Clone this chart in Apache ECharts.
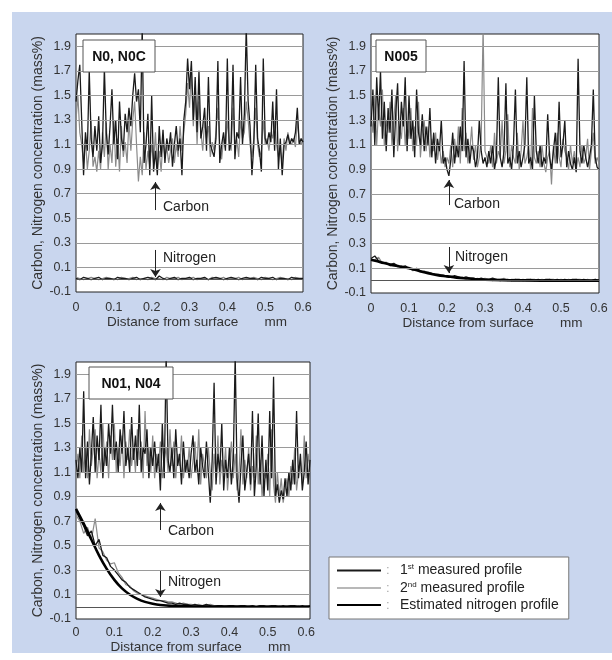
<!DOCTYPE html>
<html><head><meta charset="utf-8">
<script src="https://cdn.jsdelivr.net/npm/echarts@6/dist/echarts.min.js"></script>
<style>
html,body{margin:0;padding:0;background:#fff}
#bg{position:absolute;left:12px;top:12px;width:600px;height:641px;background:#c9d6ee}
#c{position:absolute;left:0;top:0;width:612px;height:660px}
</style>
</head><body><div id="bg"></div><div id="c"></div>
<script>
// ---- tick labels ----
const yTickLabels = ['-0.1','0.1','0.3','0.5','0.7','0.9','1.1','1.3','1.5','1.7','1.9'];
const xTickLabels = ['0','0.1','0.2','0.3','0.4','0.5','0.6'];
const seriesNames = ['1st measured profile','2nd measured profile','Estimated nitrogen profile'];
const panelNames = ['N0, N0C','N005','N01, N04'];

// sampling steps (mm)
const carbonStep = 0.005;
const nitroStep = 0.01;

// ---- Panel 1: N0, N0C ----
const n0Carbon1 = [
1.45,1.62,1.75,1.30,0.85,1.20,1.05,1.70,1.15,1.00,
1.25,1.05,1.33,0.95,1.10,1.72,1.20,1.02,1.25,1.55,
1.10,1.30,0.98,1.45,1.15,1.05,1.35,1.20,1.40,1.25,
1.50,1.68,1.45,1.55,1.20,2.05,0.95,1.10,1.35,0.85,
1.50,0.88,1.05,0.85,1.25,1.00,1.22,0.95,1.15,1.05,
1.20,0.92,1.10,1.25,1.05,1.15,0.85,1.30,1.45,1.80,
1.55,1.78,1.30,1.65,1.20,1.70,1.15,1.25,1.40,1.05,
1.65,1.10,1.05,1.00,1.15,1.78,0.95,1.10,1.20,1.05,
1.80,1.05,1.12,1.75,0.98,1.20,1.15,1.65,1.10,1.35,
2.05,1.45,1.25,0.85,1.10,1.75,1.15,1.05,0.88,1.80,
1.15,1.10,1.20,1.12,1.45,1.05,1.55,0.90,1.15,0.85,
1.10,1.12,1.18,1.10,1.15,1.12,1.20,1.40,1.10,1.15,
1.12];
const n0Carbon2 = [
1.30,1.50,1.20,1.10,0.95,1.15,0.90,1.05,1.30,0.92,
1.00,0.88,1.05,0.90,1.20,1.00,1.28,0.90,1.10,0.95,
1.30,0.92,1.15,0.88,1.25,1.00,1.12,0.95,1.30,1.05,
1.30,1.45,1.10,0.80,1.00,0.85,1.20,0.90,1.05,0.92,
1.10,0.95,1.20,0.90,1.05,0.88,1.15,1.00,1.08,0.95,
1.05,1.15,0.95,1.10,1.00,1.25,1.05,1.20,1.35,1.60,
1.40,1.70,1.25,1.50,1.10,1.45,1.20,1.05,1.30,1.15,
1.25,1.00,1.12,1.05,1.20,1.40,1.10,0.98,1.15,1.08,
1.30,1.12,1.05,1.40,1.10,1.15,1.00,1.30,1.15,1.20,
1.45,1.30,1.10,1.00,1.15,1.40,1.10,1.00,1.05,1.30,
1.10,1.15,1.05,1.20,1.15,1.30,1.10,1.00,1.05,0.95,
1.15,1.05,1.20,1.12,1.10,1.15,1.08,1.30,1.12,1.10,
1.15];
const n0Nitrogen1 = [
0.01,0.00,0.02,0.01,0.00,0.01,0.02,0.00,0.01,0.01,
0.00,0.02,0.01,0.01,0.00,0.01,0.02,0.00,0.01,0.02,
0.01,0.00,0.03,0.01,0.00,0.01,0.02,0.00,0.01,0.01,
0.02,0.00,0.01,0.01,0.02,0.00,0.01,0.02,0.01,0.00,
0.01,0.02,0.01,0.00,0.01,0.02,0.01,0.01,0.00,0.02,
0.01,0.01,0.02,0.00,0.01,0.01,0.00,0.02,0.01,0.01,
0.01];
const n0Nitrogen2 = [
0.02,0.01,0.00,0.01,0.02,0.01,0.00,0.01,0.02,0.01,
0.01,0.00,0.02,0.01,0.01,0.02,0.00,0.01,0.01,0.00,
0.02,0.01,0.01,0.00,0.02,0.01,0.01,0.02,0.00,0.01,
0.01,0.02,0.00,0.01,0.01,0.00,0.02,0.01,0.01,0.02,
0.00,0.01,0.01,0.02,0.00,0.01,0.01,0.02,0.01,0.00,
0.02,0.01,0.00,0.01,0.02,0.01,0.01,0.00,0.02,0.01,
0.01];

// ---- Panel 2: N005 ----
const n005Carbon1 = [
1.25,1.55,1.10,1.65,1.30,1.70,1.15,1.45,1.05,1.40,
1.20,1.55,1.00,1.35,1.60,1.10,1.45,1.25,1.65,1.05,
1.50,1.15,1.30,1.00,1.55,1.20,1.10,1.35,1.05,1.25,
1.10,1.40,1.00,1.20,0.95,1.15,1.05,1.30,0.95,1.00,
0.90,0.85,0.98,1.20,0.95,1.10,1.00,1.25,1.05,1.78,
1.00,1.15,0.95,1.10,1.05,0.92,1.00,1.30,1.05,0.95,
1.00,0.92,1.05,0.95,1.10,0.90,1.00,1.65,1.00,0.92,
1.05,1.60,0.95,1.00,0.90,1.10,1.55,0.95,1.05,0.92,
1.00,1.10,1.65,0.95,1.00,0.90,1.50,1.05,0.95,1.10,
0.92,1.00,0.95,1.35,1.00,0.90,1.05,1.20,0.95,1.45,
1.00,1.10,1.30,0.92,1.05,0.95,0.90,1.00,0.88,1.80,
1.05,0.95,1.10,1.00,0.92,1.00,1.10,1.55,1.00,0.92,
0.90];
const n005Carbon2 = [
1.35,1.20,1.50,1.10,1.40,1.25,1.55,1.10,1.30,1.20,
1.45,1.10,1.30,1.50,1.05,1.25,1.15,1.40,1.10,1.30,
1.15,1.40,1.05,1.25,1.10,1.45,1.00,1.20,1.30,1.05,
1.25,1.00,1.15,1.05,1.20,0.98,1.10,0.95,1.05,0.92,
1.00,0.95,1.10,0.92,1.15,1.00,1.25,0.95,1.40,1.05,
1.20,0.95,1.05,1.25,0.98,1.10,0.92,1.00,1.15,2.05,
1.05,1.00,0.95,1.10,0.92,1.20,0.95,1.05,1.00,1.30,
0.95,1.05,1.35,0.92,1.10,1.00,0.95,1.20,0.90,1.05,
1.30,0.95,1.00,1.10,0.90,1.40,1.00,0.95,1.05,0.92,
1.10,0.95,0.88,1.00,1.05,0.78,1.10,0.95,1.20,1.00,
0.92,1.15,1.05,1.00,0.90,1.10,0.95,1.05,0.90,1.00,
0.92,1.10,0.95,1.00,1.15,0.90,1.05,1.20,0.95,1.00,
0.95];
const n005Nitrogen1 = [
0.18,0.20,0.16,0.15,0.14,0.13,0.14,0.12,0.11,0.12,
0.10,0.09,0.10,0.08,0.07,0.07,0.06,0.05,0.05,0.04,
0.04,0.03,0.04,0.03,0.02,0.03,0.02,0.02,0.01,0.02,
0.01,0.01,0.02,0.01,0.00,0.01,0.01,0.00,0.01,0.01,
0.00,0.01,0.01,0.00,0.01,0.00,0.01,0.01,0.00,0.01,
0.00,0.01,0.00,0.01,0.01,0.00,0.01,0.00,0.00,0.01,
0.00];
const n005Nitrogen2 = [
0.16,0.17,0.19,0.14,0.15,0.12,0.13,0.11,0.12,0.10,
0.11,0.08,0.09,0.07,0.08,0.06,0.06,0.05,0.04,0.05,
0.03,0.04,0.03,0.02,0.03,0.02,0.02,0.01,0.02,0.01,
0.02,0.01,0.00,0.01,0.01,0.02,0.00,0.01,0.01,0.00,
0.01,0.00,0.01,0.01,0.00,0.01,0.00,0.01,0.01,0.00,
0.01,0.00,0.01,0.00,0.01,0.01,0.00,0.01,0.00,0.01,
0.00];
const n005EstX = [0,0.025,0.05,0.075,0.1,0.125,0.15,0.175,0.2,0.225,0.25,0.275,0.3,0.35,0.4,0.5,0.6];
const n005EstY = [0.17,0.15,0.13,0.115,0.10,0.08,0.06,0.045,0.035,0.025,0.018,0.012,0.008,0.004,0.002,0.0,0.0];

// ---- Panel 3: N01, N04 ----
const n01Carbon1 = [
1.20,1.05,1.30,1.10,1.76,1.05,1.35,1.00,1.25,1.55,
1.10,1.40,1.20,1.65,1.05,1.30,1.15,1.50,1.25,1.65,
1.20,1.35,1.10,1.45,1.25,1.60,1.15,1.30,1.10,1.55,
1.20,1.40,1.15,1.65,1.10,1.30,1.25,1.45,1.05,1.30,
1.15,1.35,1.10,1.25,0.95,1.50,1.05,2.05,1.20,1.10,
1.30,1.05,1.45,1.15,1.25,1.00,1.35,1.10,1.20,1.05,
1.25,1.40,1.10,1.20,1.00,1.30,1.15,1.05,1.35,1.10,
0.85,1.20,1.83,1.00,1.25,1.10,1.50,0.95,1.20,1.05,
1.30,1.00,1.20,2.05,1.05,0.85,1.15,1.40,0.95,1.10,
1.25,1.00,1.60,0.90,1.15,1.58,1.00,1.40,0.90,1.20,
0.95,1.60,1.05,1.88,0.90,1.00,0.85,0.95,0.88,1.05,
0.90,1.10,0.95,1.20,1.00,1.60,1.05,1.25,0.95,1.10,
1.35,1.00,1.20];
const n01Carbon2 = [
1.10,1.25,1.05,1.40,1.10,1.30,1.05,1.45,1.15,1.30,
1.45,1.05,1.25,1.10,1.50,1.15,1.35,1.05,1.40,1.20,
1.50,1.10,1.30,1.15,1.40,1.05,1.35,1.20,1.45,1.15,
1.30,1.10,1.45,1.20,1.35,1.05,1.60,1.15,1.30,1.10,
1.40,1.05,1.25,1.15,1.35,1.05,1.20,1.30,1.10,1.45,
1.15,1.35,1.05,1.25,1.15,1.40,1.05,1.20,1.10,1.30,
1.05,1.20,1.35,1.10,1.45,1.00,1.25,1.15,1.05,1.30,
1.10,0.95,1.25,1.05,1.40,1.00,1.20,1.10,1.30,0.95,
1.15,1.35,1.05,1.25,0.95,1.10,1.45,1.00,1.20,1.05,
1.30,0.95,1.15,1.05,1.40,1.00,1.20,0.90,1.10,1.05,
1.25,0.90,1.45,1.00,0.85,1.10,0.90,1.05,0.85,0.95,
1.05,0.90,1.15,1.00,1.30,0.95,1.10,1.20,1.00,1.40,
1.05,1.25,1.10];
const n01Nitrogen1 = [
0.78,0.72,0.66,0.58,0.62,0.50,0.55,0.42,0.40,0.33,
0.30,0.26,0.22,0.20,0.16,0.14,0.12,0.10,0.08,0.07,
0.06,0.05,0.05,0.04,0.03,0.03,0.02,0.03,0.02,0.02,
0.01,0.02,0.01,0.01,0.02,0.01,0.00,0.01,0.01,0.00,
0.01,0.01,0.00,0.01,0.01,0.00,0.01,0.00,0.01,0.01,
0.00,0.01,0.01,0.00,0.01,0.00,0.01,0.01,0.00,0.01,
0.00,0.01];
const n01Nitrogen2 = [
0.75,0.70,0.60,0.65,0.55,0.72,0.48,0.45,0.38,0.35,
0.36,0.28,0.24,0.18,0.17,0.13,0.11,0.10,0.09,0.08,
0.07,0.06,0.05,0.05,0.04,0.04,0.03,0.02,0.03,0.02,
0.02,0.01,0.02,0.01,0.01,0.02,0.01,0.01,0.00,0.01,
0.01,0.00,0.01,0.01,0.00,0.01,0.01,0.00,0.01,0.00,
0.01,0.01,0.00,0.01,0.00,0.01,0.01,0.00,0.01,0.00,
0.01,0.00];
const n01EstX = [0,0.02,0.04,0.06,0.08,0.1,0.12,0.14,0.16,0.18,0.2,0.22,0.25,0.3,0.4,0.5,0.61];
const n01EstY = [0.80,0.68,0.55,0.42,0.31,0.22,0.15,0.10,0.065,0.04,0.025,0.015,0.007,0.003,0.001,0.0,0.0];

// annotation arrows in data units: [x, yFrom, yTo]
const carbonArrows = [[0.21,0.567,0.795],[0.205,0.613,0.816],[0.22,0.627,0.848]];
const nitrogenArrows = [[0.21,0.242,0.022],[0.205,0.273,0.062],[0.22,0.292,0.08]];

// ---------------- build ----------------
const F = "'Liberation Sans',Arial,Helvetica,sans-serif";
const BLACK = '#1a1a1a', GRAY = '#8a8a8a';
const pair = (arr, step) => arr.map((v, i) => [+(i * step).toFixed(4), v]);
const pairXY = (xs, ys) => xs.map((x, i) => [x, ys[i]]);

const panels = [
  {grid:{left:76, top:34, width:227, height:258}, xMax:0.6, lm:9, ng:23, c1:n0Carbon1, c2:n0Carbon2, nz1:n0Nitrogen1, nz2:n0Nitrogen2, est:null},
  {grid:{left:371, top:34, width:228, height:259}, xMax:0.6, lm:9, ng:23, c1:n005Carbon1, c2:n005Carbon2, nz1:n005Nitrogen1, nz2:n005Nitrogen2, est:pairXY(n005EstX,n005EstY)},
  {grid:{left:76, top:362, width:234, height:257}, xMax:0.61, lm:7, ng:19, c1:n01Carbon1, c2:n01Carbon2, nz1:n01Nitrogen1, nz2:n01Nitrogen2, est:pairXY(n01EstX,n01EstY)}
];

const grids = [], xAxes = [], yAxes = [], series = [];
panels.forEach((p, k) => {
  grids.push(Object.assign({show:true, backgroundColor:'#fff', borderColor:'#222', borderWidth:1}, p.grid));
  xAxes.push({
    type:'value', gridIndex:k, min:0, max:p.xMax, interval:0.1,
    axisLine:{show:false}, axisTick:{show:false}, splitLine:{show:false},
    axisLabel:{fontFamily:F, fontSize:12.5, color:'#333', margin:p.lm,
      formatter: v => { const s = v === 0 ? '0' : (Math.round(v*10)/10).toFixed(1); return xTickLabels.includes(s) ? s : ''; }},
    name:'Distance from surface       mm', nameLocation:'middle', nameGap:p.ng,
    nameTextStyle:{fontFamily:F, fontSize:13.5, color:'#333', padding:[0,0,0,15]}
  });
  yAxes.push({
    type:'value', gridIndex:k, min:-0.1, max:2.0, interval:0.1,
    axisLine:{show:false}, axisTick:{show:false}, splitLine:{show:false},
    axisLabel:{fontFamily:F, fontSize:12.5, color:'#333', margin:5,
      formatter: v => { const s = (Math.round(v*10)/10).toFixed(1); return yTickLabels.includes(s) ? s : ''; }},
    name:'Carbon, Nitrogen concentration (mass%)', nameLocation:'middle', nameGap:27,
    nameTextStyle:{fontFamily:F, fontSize:14, color:'#333'}
  });
  // grid lines
  series.push({
    type:'line', xAxisIndex:k, yAxisIndex:k, data:[], silent:true, z:1,
    markLine:{silent:true, symbol:['none','none'], label:{show:false}, animation:false,
      lineStyle:{color:'#9a9a9a', width:1, type:'solid'},
      data: yTickLabels.slice(1).map(s => ({yAxis: parseFloat(s)})).concat([{yAxis:0, lineStyle:{color:'#555', width:1, type:'solid'}}])}
  });
  const common = {type:'line', xAxisIndex:k, yAxisIndex:k, showSymbol:false, symbol:'none', animation:false, z:3};
  series.push(Object.assign({}, common, {name:seriesNames[1], data:pair(p.c2, carbonStep), lineStyle:{color:GRAY, width:1.2}, itemStyle:{color:GRAY}}));
  series.push(Object.assign({}, common, {name:seriesNames[0], data:pair(p.c1, carbonStep), lineStyle:{color:BLACK, width:1.3}, itemStyle:{color:BLACK}}));
  series.push(Object.assign({}, common, {name:seriesNames[1], data:pair(p.nz2, nitroStep), lineStyle:{color:GRAY, width:1.2}, itemStyle:{color:GRAY}}));
  series.push(Object.assign({}, common, {name:seriesNames[0], data:pair(p.nz1, nitroStep), lineStyle:{color:BLACK, width:1.3}, itemStyle:{color:BLACK}}));
  if (p.est) {
    series.push(Object.assign({}, common, {name:seriesNames[2], data:p.est, smooth:0.4, lineStyle:{color:'#000', width:2.6}, itemStyle:{color:'#000'}, z:4}));
  }
  // arrows
  const ca = carbonArrows[k], na = nitrogenArrows[k];
  series.push({
    type:'line', xAxisIndex:k, yAxisIndex:k, data:[], silent:true, z:6,
    markLine:{silent:true, symbol:['none','arrow'], symbolSize:8, label:{show:false}, animation:false,
      lineStyle:{color:'#222', width:1, type:'solid'}, itemStyle:{color:'#222'},
      data:[
        [{coord:[ca[0], ca[1]]}, {coord:[ca[0], ca[2]]}],
        [{coord:[na[0], na[1]]}, {coord:[na[0], na[2]]}]
      ]}
  });
});

// texts / boxes
const boxes = [
  {x:83, y:40, w:72, h:32, t:panelNames[0]},
  {x:376, y:40, w:50, h:32, t:panelNames[1]},
  {x:89, y:367, w:84, h:32, t:panelNames[2]}
];
const labels = [
  {x:163, y:207, t:'Carbon'}, {x:163, y:258, t:'Nitrogen'},
  {x:454, y:204, t:'Carbon'}, {x:455, y:257, t:'Nitrogen'},
  {x:168, y:531, t:'Carbon'}, {x:168, y:582, t:'Nitrogen'}
];
const graphic = [];
boxes.forEach(b => {
  graphic.push({type:'rect', z:20, shape:{x:b.x, y:b.y, width:b.w, height:b.h}, style:{fill:'#fff', stroke:'#555', lineWidth:1}});
  graphic.push({type:'text', z:21, style:{x:b.x + b.w/2, y:b.y + b.h/2 + 1, text:b.t, align:'center', verticalAlign:'middle', font:"bold 14px " + F, fill:'#111'}});
});
labels.forEach(l => {
  graphic.push({type:'text', z:21, style:{x:l.x, y:l.y, text:l.t, align:'left', verticalAlign:'middle', font:"14px " + F, fill:'#222'}});
});

const chart = echarts.init(document.getElementById('c'), null, {renderer:'canvas'});
chart.setOption({
  animation:false,
  grid:grids, xAxis:xAxes, yAxis:yAxes, series:series, graphic:graphic,
  legend:{
    data:[
      {name:seriesNames[0]},
      {name:seriesNames[1], lineStyle:{color:'#b8b8b8'}},
      {name:seriesNames[2]}
    ],
    orient:'vertical', left:329, top:557,
    backgroundColor:'#fff', borderColor:'#777', borderWidth:1, borderRadius:0,
    padding:[6, 10, 7, 7], itemGap:3, itemWidth:44, itemHeight:14, itemTextGap:8,
    selectedMode:false,
    itemStyle:{opacity:0},
    textStyle:{fontFamily:F, fontSize:14, color:'#222',
      rich:{
        c:{fontFamily:F, fontSize:13, color:'#aaa', width:14},
        t:{fontFamily:F, fontSize:14, color:'#222', lineHeight:15},
        s:{fontFamily:F, fontSize:8, color:'#222', verticalAlign:'top', lineHeight:15}
      }},
    formatter: n => {
      if (n === seriesNames[0]) return '{c|:}{t|1}{s|st}{t| measured profile}';
      if (n === seriesNames[1]) return '{c|:}{t|2}{s|nd}{t| measured profile}';
      return '{c|:}{t|Estimated nitrogen profile}';
    }
  }
});
</script>
</body></html>
